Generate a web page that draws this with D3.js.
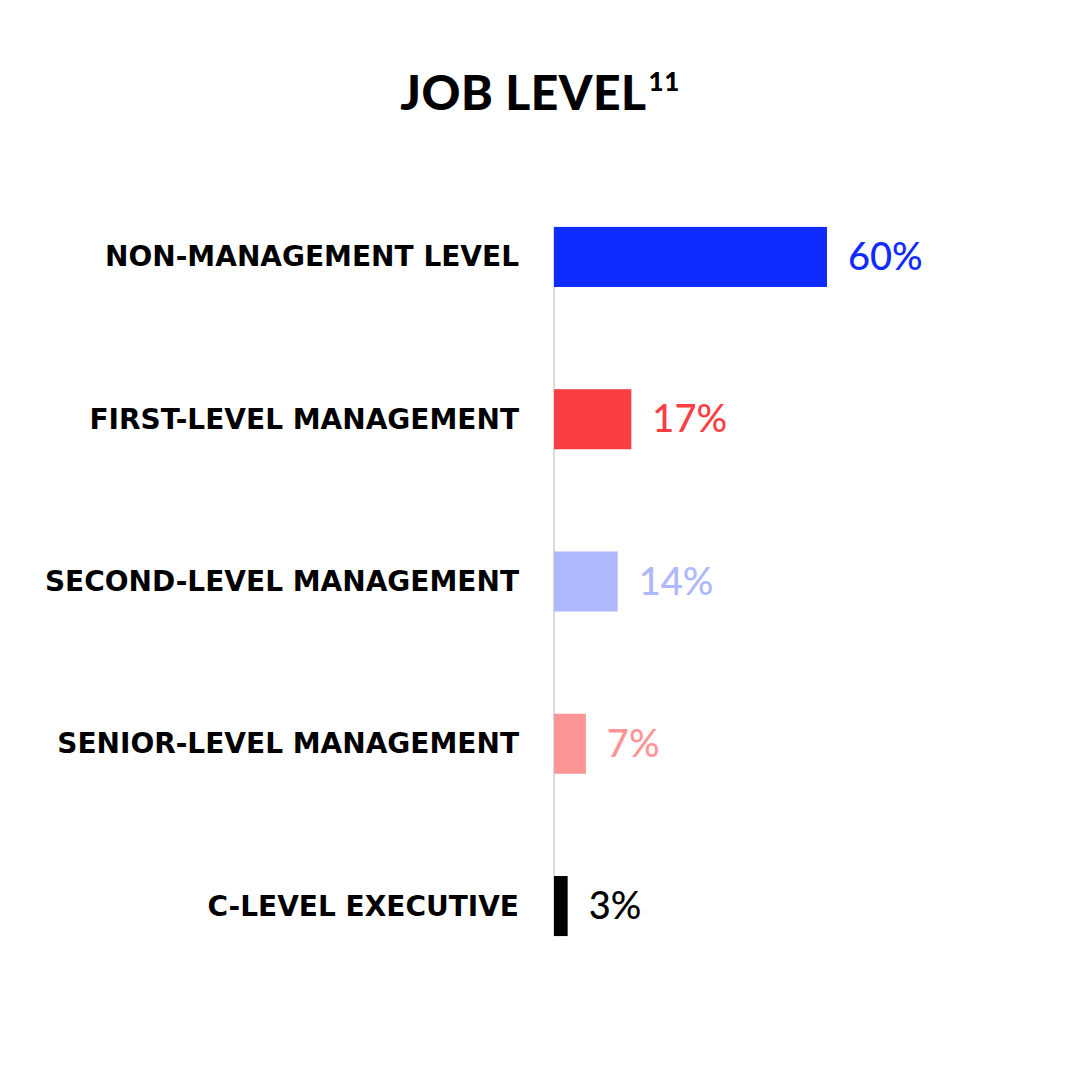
<!DOCTYPE html>
<html><head><meta charset="utf-8">
<script src="https://cdn.jsdelivr.net/npm/d3@7"></script>
<style>body{margin:0;background:#fff}svg{display:block}</style>
</head><body>
<script>
const categories = ["NON-MANAGEMENT LEVEL","FIRST-LEVEL MANAGEMENT","SECOND-LEVEL MANAGEMENT","SENIOR-LEVEL MANAGEMENT","C-LEVEL EXECUTIVE"];
const values = [60,17,14,7,3];
const colors = ["#0F2BFF","#F93F43","#AEB8FE","#FC9595","#000000"];
const title = "JOB LEVEL";
const titleSup = "11";

const W=1080,H=1080;
const svg=d3.select("body").append("svg").attr("width",W).attr("height",H);
const font="Lato, 'Noto Sans', sans-serif";
const labelFont="'DejaVu Sans', sans-serif";

const x=d3.scaleLinear().domain([0,60]).range([554,827]);
const y=d3.scaleBand().domain(categories).range([175,988]).paddingInner(0.63).paddingOuter(0.32);

const t=svg.append("text").attr("x",540).attr("y",110).attr("text-anchor","middle")
 .attr("font-family",font).attr("font-weight",900).attr("font-size",48).attr("fill","#000")
 .attr("letter-spacing",0.5);
t.append("tspan").text(title);
t.append("tspan").text(titleSup).attr("font-size",26).attr("dy",-19).attr("dx",2);

svg.append("line").attr("x1",554).attr("x2",554)
 .attr("y1",y(categories[0])).attr("y2",y(categories[4])+y.bandwidth())
 .attr("stroke","#dcdcdc").attr("stroke-width",2);

const g=svg.selectAll("g.row").data(categories).join("g");
g.append("rect").attr("x",x(0)).attr("y",d=>y(d)).attr("height",y.bandwidth())
 .attr("width",(d,i)=>x(values[i])-x(0)).attr("fill",(d,i)=>colors[i]);
const labels=g.append("text").attr("x",519).attr("y",d=>y(d)+y.bandwidth()/2+9.5).attr("text-anchor","end")
 .attr("font-family",labelFont).attr("font-weight",700).attr("font-size",26).attr("fill","#000").text(d=>d);
const w0=labels.node().getComputedTextLength();
const fs=Math.min(28,26*422/w0);
labels.attr("font-size",fs);
g.append("text").attr("x",(d,i)=>x(values[i])+21).attr("y",d=>y(d)+y.bandwidth()/2+13)
 .attr("font-family",font).attr("font-weight",500).attr("font-size",38).attr("fill",(d,i)=>colors[i])
 .text((d,i)=>values[i]+"%");
</script>
</body></html>
